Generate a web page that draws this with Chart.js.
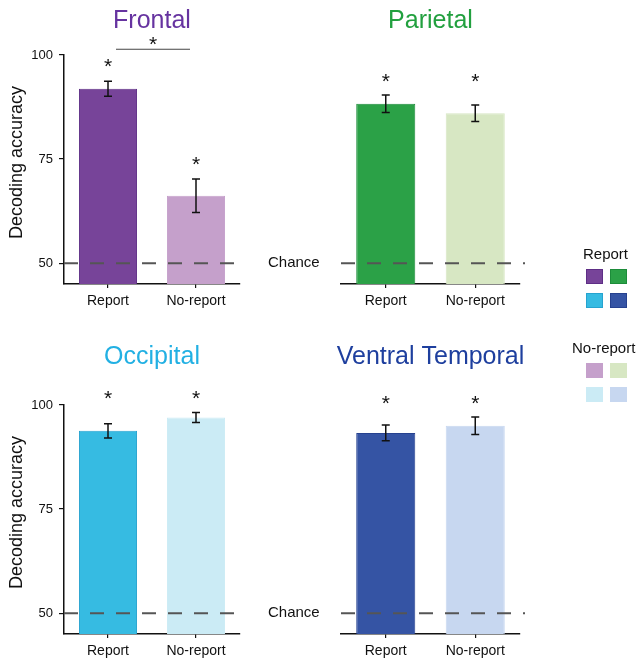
<!DOCTYPE html>
<html>
<head>
<meta charset="utf-8">
<script src="https://cdn.jsdelivr.net/npm/chart.js@4.4.1/dist/chart.umd.min.js"></script>
<style>
  body { margin: 0; background: #fff; font-family: "Liberation Sans", Arial, sans-serif; }
  #wrap { position: relative; width: 640px; height: 660px; }
  .panel { position: absolute; width: 320px; height: 330px; }
  .legend-title { position: absolute; font-size: 15px; color: #111; line-height: 18px; }
  .swatch { position: absolute; width: 17px; height: 15px; box-sizing: border-box; }
</style>
</head>
<body>
<div id="wrap">
  <div class="panel" style="left:0;top:0"><canvas id="c0" width="320" height="330"></canvas></div>
  <div class="panel" style="left:320px;top:0"><canvas id="c1" width="320" height="330"></canvas></div>
  <div class="panel" style="left:0;top:330px"><canvas id="c2" width="320" height="330"></canvas></div>
  <div class="panel" style="left:320px;top:330px"><canvas id="c3" width="320" height="330"></canvas></div>
  <div id="legend"></div>
</div>
<script>
// values
const regions = ["Frontal", "Parietal", "Occipital", "Ventral Temporal"];
const conditions = ["Report", "No-report"];
const reportMeans = [91.9, 88.3, 93.8, 93.3];
const reportErrors = [1.8, 2.1, 1.7, 1.9];
const noReportMeans = [66.2, 86.0, 97.0, 95.0];
const noReportErrors = [4.0, 2.0, 1.2, 2.1];
const yTicks = [50, 75, 100];
const chanceLevel = 50;
const yMin = 45;
const yMax = 100;

const reportColors = ["#774499", "#2ba147", "#36bbe2", "#3554a4"];
const reportBorders = ["#5e2e86", "#1d8c3a", "#26a3cf", "#26418f"];
const noReportColors = ["#c5a0cb", "#d7e7c3", "#cbebf5", "#c7d7f0"];
const titleColors = ["#6633a0", "#22a03f", "#22b0e3", "#1e3f9e"];

const FONT = "'Liberation Sans', Arial, sans-serif";

// panel layout: left column has the y axis and the "Chance" label
const panels = [
  { yAxis: true,  pad: { top: 55, bottom: 20, left: 0,  right: 80 },  titleY: 28 },
  { yAxis: false, pad: { top: 55, bottom: 20, left: 21, right: 120 }, titleY: 28 },
  { yAxis: true,  pad: { top: 75, bottom: 0,  left: 0,  right: 80 },  titleY: 364 - 330 },
  { yAxis: false, pad: { top: 75, bottom: 0,  left: 21, right: 120 }, titleY: 364 - 330 }
];

function drawStar(ctx, x, cy) {
  ctx.font = "21px " + FONT;
  ctx.textAlign = "center";
  ctx.textBaseline = "alphabetic";
  ctx.fillStyle = "#111";
  ctx.fillText("*", x, cy + 21 * 0.57);
}

const decorPlugin = {
  id: "decor",
  afterDatasetsDraw(chart, args, opts) {
    const { ctx, chartArea, scales } = chart;
    const y = scales.y;
    const meta = chart.getDatasetMeta(0);
    const yc = y.getPixelForValue(chanceLevel);

    ctx.save();
    // chance line
    ctx.strokeStyle = "#555";
    ctx.lineWidth = 2;
    ctx.setLineDash([14, 12]);
    ctx.beginPath();
    ctx.moveTo(chartArea.left, yc);
    ctx.lineTo(chartArea.right + 5, yc);
    ctx.stroke();
    ctx.setLineDash([]);

    // error bars
    ctx.strokeStyle = "#111";
    ctx.lineWidth = 1.5;
    opts.means.forEach((m, i) => {
      const x = meta.data[i].x;
      const top = y.getPixelForValue(m + opts.errors[i]);
      const bot = y.getPixelForValue(m - opts.errors[i]);
      ctx.beginPath();
      ctx.moveTo(x, top); ctx.lineTo(x, bot);
      ctx.moveTo(x - 4, top); ctx.lineTo(x + 4, top);
      ctx.moveTo(x - 4, bot); ctx.lineTo(x + 4, bot);
      ctx.stroke();
    });
    ctx.restore();
  },
  afterDraw(chart, args, opts) {
    const { ctx, chartArea, scales } = chart;
    const y = scales.y;
    const meta = chart.getDatasetMeta(0);
    const tops = opts.means.map((m, i) => y.getPixelForValue(m + opts.errors[i]));

    ctx.save();
    // title
    ctx.font = "25px " + FONT;
    ctx.fillStyle = opts.titleColor;
    ctx.textAlign = "center";
    ctx.textBaseline = "alphabetic";
    ctx.fillText(opts.title, (chartArea.left + chartArea.right) / 2, opts.titleY);

    // significance stars
    let starYs;
    if (opts.bracket) {
      starYs = tops.map(t => t - 20);
    } else {
      const hi = Math.min(...tops) - 19;
      starYs = tops.map(() => hi);
    }
    meta.data.forEach((bar, i) => drawStar(ctx, bar.x, starYs[i]));

    if (opts.bracket) {
      const ly = starYs[0] - 12;
      const x0 = meta.data[0].x + 8;
      const x1 = meta.data[1].x - 6;
      ctx.strokeStyle = "#444";
      ctx.lineWidth = 1.2;
      ctx.beginPath();
      ctx.moveTo(x0, ly); ctx.lineTo(x1, ly);
      ctx.stroke();
      drawStar(ctx, (x0 + x1) / 2, ly - 10);
    }

    if (opts.yAxis) {
      // chance label
      ctx.font = "15px " + FONT;
      ctx.fillStyle = "#111";
      ctx.textAlign = "left";
      ctx.textBaseline = "middle";
      ctx.fillText("Chance", chartArea.right + 28, y.getPixelForValue(chanceLevel));

      // y axis title
      ctx.translate(17, (chartArea.top + chartArea.bottom) / 2 - 7);
      ctx.rotate(-Math.PI / 2);
      ctx.font = "18px " + FONT;
      ctx.textAlign = "center";
      ctx.fillText("Decoding accuracy", 0, 0);
    }
    ctx.restore();
  }
};

panels.forEach((p, k) => {
  const means = [reportMeans[k], noReportMeans[k]];
  const errors = [reportErrors[k], noReportErrors[k]];
  new Chart(document.getElementById("c" + k), {
    type: "bar",
    data: {
      labels: conditions,
      datasets: [{
        data: means,
        backgroundColor: [reportColors[k], noReportColors[k]],
        borderColor: [reportBorders[k], noReportColors[k]],
        borderWidth: 1,
        barPercentage: 0.66,
        categoryPercentage: 1
      }]
    },
    options: {
      responsive: false,
      animation: false,
      layout: { padding: p.pad },
      plugins: {
        legend: { display: false },
        tooltip: { enabled: false },
        decor: {
          means: means,
          errors: errors,
          title: regions[k],
          titleColor: titleColors[k],
          titleY: p.titleY,
          yAxis: p.yAxis,
          bracket: k === 0
        }
      },
      scales: {
        x: {
          afterFit: s => { s.height = 26; },
          border: { display: true, color: "#111", width: 1.5 },
          grid: { display: true, drawOnChartArea: false, drawTicks: true, tickLength: 4, offset: false, color: "#111", lineWidth: 1.2 },
          ticks: { color: "#111", padding: 5, maxRotation: 0, font: { family: FONT, size: 14 } }
        },
        y: {
          display: p.yAxis,
          min: yMin,
          max: yMax,
          afterFit: s => { s.width = p.yAxis ? 64 : 0; },
          afterBuildTicks: s => { s.ticks = yTicks.map(v => ({ value: v })); },
          border: { display: true, color: "#111", width: 1.5 },
          grid: { display: true, drawOnChartArea: false, drawTicks: true, tickLength: 5, color: "#111", lineWidth: 1.2 },
          ticks: { color: "#111", padding: 6, font: { family: FONT, size: 13 } }
        }
      }
    },
    plugins: [decorPlugin]
  });
});

// legend: report colours, then no-report colours
const legend = document.getElementById("legend");
function legendBlock(label, left, top, colors, borders) {
  const t = document.createElement("div");
  t.className = "legend-title";
  t.textContent = label;
  t.style.left = left + "px";
  t.style.top = top + "px";
  legend.appendChild(t);
  colors.forEach((c, i) => {
    const s = document.createElement("div");
    s.className = "swatch";
    s.style.background = c;
    if (borders) s.style.border = "1px solid " + borders[i];
    s.style.left = (586 + (i % 2) * 24) + "px";
    s.style.top = (top + 24 + Math.floor(i / 2) * 24) + "px";
    legend.appendChild(s);
  });
}
legendBlock("Report", 583, 245, reportColors, reportBorders);
legendBlock("No-report", 572, 339, noReportColors, null);
</script>
</body>
</html>
